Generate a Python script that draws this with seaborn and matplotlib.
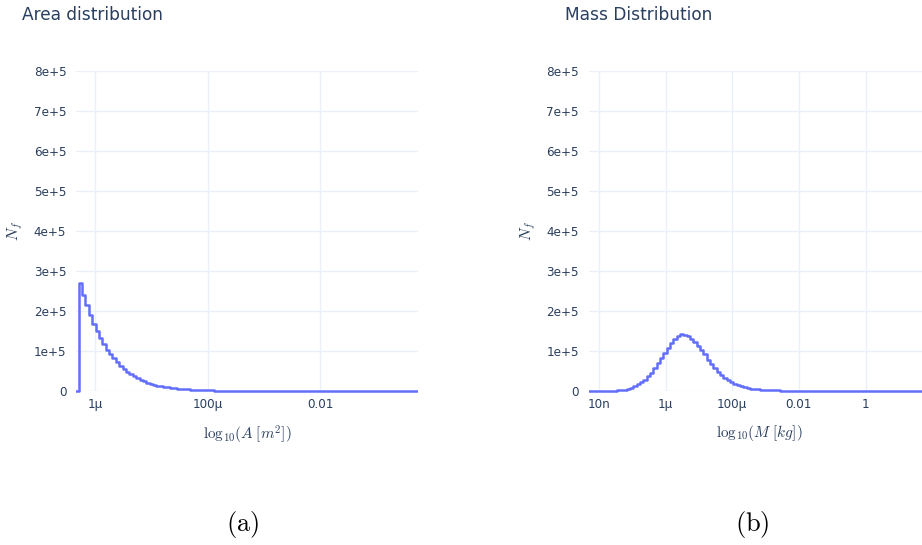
import numpy as np
import pandas as pd
import matplotlib
matplotlib.use("Agg")
import matplotlib.pyplot as plt
import seaborn as sns
from matplotlib.patches import Rectangle
from matplotlib.ticker import FixedLocator, FuncFormatter

# ---------------- data ----------------
# Area histogram: log-uniform bins, first edge and width in log10 units
area_bin_start_log = -6.349
area_bin_width_log = 0.06
area_counts = [
    0,
    271000, 241000, 214000, 191000, 168000, 149000, 132000, 117000, 103000, 92000,
    82000, 72000, 62500, 54000, 47500, 42000, 37000, 32500, 28000, 24000,
    21000, 18000, 16000, 13000, 11500, 10000, 9000, 8000, 7000, 6000,
    5200, 4500, 4000, 3500, 3000, 2600, 2200, 1900, 1600, 1400,
    1200, 1000, 900, 800, 700, 600, 500, 400, 350, 300,
    250, 200, 180, 150, 120, 100, 90, 80, 60, 50,
    40, 30, 20, 20, 10, 0, 0, 0, 0, 0,
    0, 0, 0, 0, 0, 0, 0, 0, 0, 0,
    0, 0, 0, 0, 0, 0, 0, 0, 0, 0,
    0, 0, 0, 0, 0, 0, 0, 0, 0, 0,
    0,
]

# Mass histogram
mass_bin_start_log = -8.37
mass_bin_width_log = 0.1
mass_counts = [
    0, 0, 100, 200, 300, 400, 600, 800, 1000, 1300,
    1700, 3000, 5800, 8300, 12500, 17000, 22000, 28000, 37000, 46000,
    57500, 70000, 82500, 96000, 108000, 120000, 130000, 137500, 142000, 141000,
    137000, 131000, 122000, 113000, 103000, 93000, 78000, 68000, 58000, 48000,
    41000, 33000, 27000, 22000, 17500, 14000, 12000, 9000, 7500, 6000,
    5000, 4000, 3000, 3000, 2500, 2000, 1600, 1300, 1000, 800,
    600, 500, 400, 300, 250, 200, 150, 100, 100, 80,
    50, 30, 20, 10, 0, 0, 0, 0, 0, 0,
    0, 0, 0, 0, 0, 0, 0, 0, 0, 0,
    0, 0, 0, 0, 0, 0, 0, 0, 0, 0,
    0, 0, 0, 0,
]

area_xlim_log = (-6.337, -0.263)
mass_xlim_log = (-8.315, 1.95)
area_ticks = [1e-6, 1e-4, 1e-2]
area_tick_labels = ["1μ", "100μ", "0.01"]
mass_ticks = [1e-8, 1e-6, 1e-4, 1e-2, 1]
mass_tick_labels = ["10n", "1μ", "100μ", "0.01", "1"]
y_ticks = [0, 1e5, 2e5, 3e5, 4e5, 5e5, 6e5, 7e5, 8e5]

titles = ["Area distribution", "Mass Distribution"]
xlabels = [r"$\mathrm{log}_{10}(A\;[m^2])$", r"$\mathrm{log}_{10}(M\;[kg])$"]
ylabel = r"$N_f$"
captions = ["(a)", "(b)"]

# ---------------- style ----------------
sns.set_theme(style="white")
plt.rcParams["font.family"] = ["DejaVu Sans"]
plt.rcParams["mathtext.fontset"] = "cm"

LINE = "#636efa"
GRID = "#EBF0F8"
TXT = "#2a3f5f"

W, H = 922, 545
fig = plt.figure(figsize=(W / 100, H / 100), dpi=100)


def px_axes(x0, y_top, w, h):
    return fig.add_axes([x0 / W, 1 - (y_top + h) / H, w / W, h / H])


ax1 = px_axes(76, 71, 342, 320)
ax2 = px_axes(588.5, 71, 342, 320)


def yfmt(v, _):
    if v == 0:
        return "0"
    return f"{int(round(v / 1e5))}e+5"


def draw(ax, start, width, counts, xlim, ticks, tlabels, xlabel):
    n = len(counts)
    edges_log = start + width * np.arange(n + 1)
    df = pd.DataFrame({
        "x": 10 ** (edges_log[:-1] + width / 2),
        "w": np.asarray(counts, dtype=float),
    })
    sns.histplot(data=df, x="x", weights="w", bins=list(10 ** edges_log),
                 element="step", fill=False, color=LINE, linewidth=1.8, ax=ax)
    # clip at the left/right edges only, so the zero-level line shows fully
    clip = Rectangle((0, -0.05), 1, 1.1, transform=ax.transAxes,
                     facecolor="none", edgecolor="none")
    for ln in ax.lines:
        ln.set_clip_path(clip)
    ax.set_xscale("log")
    ax.set_xlim(10 ** xlim[0], 10 ** xlim[1])
    ax.set_ylim(0, 8e5)
    ax.xaxis.set_major_locator(FixedLocator(ticks))
    ax.set_xticklabels(tlabels)
    ax.xaxis.set_minor_locator(FixedLocator([]))
    ax.yaxis.set_major_locator(FixedLocator(y_ticks))
    ax.yaxis.set_major_formatter(FuncFormatter(yfmt))
    ax.grid(True, color=GRID, linewidth=1)
    ax.set_axisbelow(True)
    for s in ax.spines.values():
        s.set_visible(False)
    ax.tick_params(axis="both", length=0, labelsize=8.64, labelcolor=TXT)
    ax.tick_params(axis="y", pad=7)
    ax.tick_params(axis="x", pad=5)
    ax.set_xlabel(xlabel, color=TXT, fontsize=11, labelpad=9)
    ax.set_ylabel(ylabel, color=TXT, fontsize=11, labelpad=6)


draw(ax1, area_bin_start_log, area_bin_width_log, area_counts, area_xlim_log,
     area_ticks, area_tick_labels, xlabels[0])
draw(ax2, mass_bin_start_log, mass_bin_width_log, mass_counts, mass_xlim_log,
     mass_ticks, mass_tick_labels, xlabels[1])

fig.text(22 / W, 1 - 15 / H, titles[0], ha="left", va="center",
         fontsize=12.24, color=TXT)
fig.text(565 / W, 1 - 15 / H, titles[1], ha="left", va="center",
         fontsize=12.24, color=TXT)

fig.text(243 / W, 1 - 524 / H, r"$\mathrm{" + captions[0] + "}$", ha="center",
         va="center", fontsize=19, color="black")
fig.text(752 / W, 1 - 524 / H, r"$\mathrm{" + captions[1] + "}$", ha="center",
         va="center", fontsize=19, color="black")

fig.savefig("out.png", dpi=100)
